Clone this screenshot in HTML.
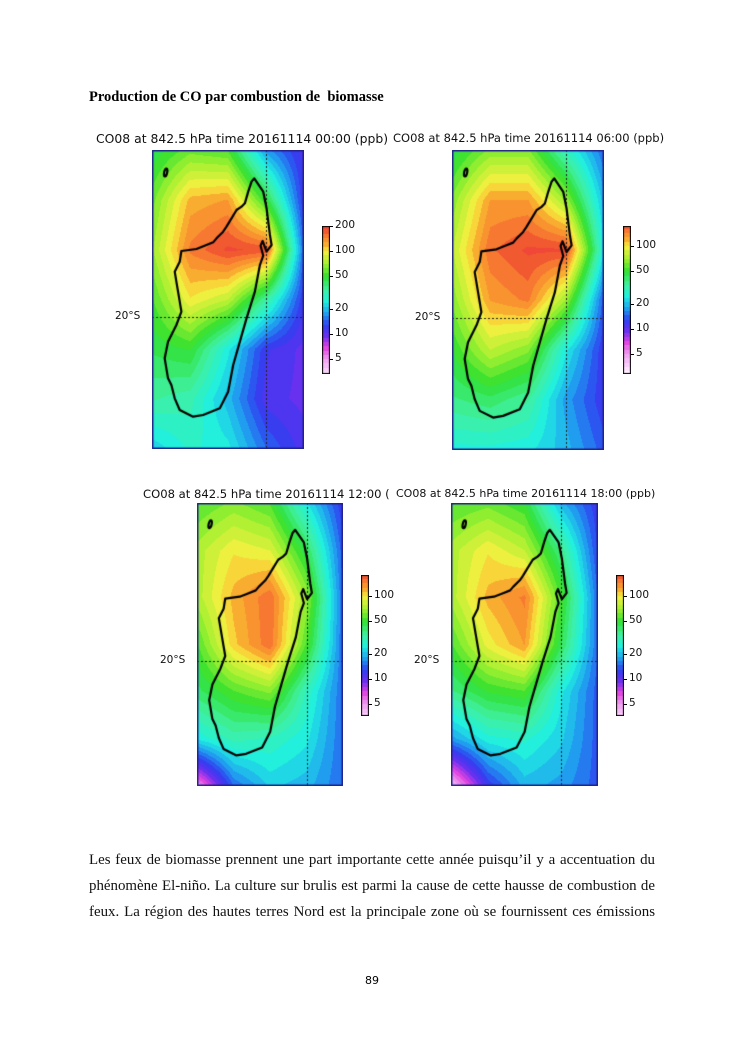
<!DOCTYPE html>
<html><head><meta charset="utf-8">
<style>
body{margin:0;background:#fff;}
#page{position:relative;width:744px;height:1053px;overflow:hidden;background:#fff;}
.abs{position:absolute;}
.ttl{font-family:"DejaVu Sans","Liberation Sans",sans-serif;font-size:12.4px;color:#111;white-space:nowrap;}
.line{position:absolute;left:89px;width:566px;font-family:"Liberation Serif",serif;font-size:14.9px;text-align:justify;text-align-last:justify;white-space:nowrap;color:#111;}
.lbl{font-family:"DejaVu Sans","Liberation Sans",sans-serif;font-size:10.5px;color:#111;position:absolute;white-space:nowrap;}
canvas{position:absolute;}
</style></head>
<body><div id="page">
<div class="abs" style="left:89px;top:89px;font-family:'Liberation Serif',serif;font-weight:bold;font-size:14.5px;">Production de CO par combustion de&nbsp; biomasse</div>

<div class="abs ttl" style="left:96px;top:131px;">CO08 at 842.5 hPa time 20161114 00:00 (ppb)</div>
<div class="abs ttl" style="left:393px;top:131px;font-size:11.5px;">CO08 at 842.5 hPa time 20161114 06:00 (ppb)</div>
<div class="abs ttl" style="left:143px;top:487px;width:247px;overflow:hidden;font-size:11.6px;">CO08 at 842.5 hPa time 20161114 12:00 (ppb)</div>
<div class="abs ttl" style="left:396px;top:487px;font-size:11px;">CO08 at 842.5 hPa time 20161114 18:00 (ppb)</div>

<div class="line" style="top:852px;">Les feux de biomasse prennent une part importante cette année puisqu’il y a accentuation du</div>
<div class="line" style="top:878px;">phénomène El-niño. La culture sur brulis est parmi la cause de cette hausse de combustion de</div>
<div class="line" style="top:904px;">feux. La région des hautes terres Nord est la principale zone où se fournissent ces émissions</div>
<div class="abs" style="left:365px;top:974px;font-family:'DejaVu Sans',sans-serif;font-size:11px;">89</div>
</div>
<script>
// Field grids (ppb), 7 rows (north->south) x 5 cols (west->east)
const grid0000=[[45,60,55,18,11],[60,120,130,50,12],[70,150,190,180,15],[55,100,80,35,12],[45,50,25,12,10],[35,32,20,11,10],[22,28,25,15,11]];
const grid0600=[[45,65,65,30,15],[65,130,130,70,20],[80,160,190,190,25],[65,130,150,70,14],[50,80,65,25,12],[38,42,35,18,12],[26,26,25,20,14]];
const grid1200=[[55,65,55,25,12],[75,100,90,45,14],[75,120,160,70,15],[55,110,160,55,15],[42,55,65,30,15],[25,32,30,25,15],[5,15,22,20,15]];
const grid1800=[[55,60,50,20,12],[75,100,80,38,13],[75,120,150,55,15],[55,95,130,45,15],[38,50,55,25,14],[18,26,28,22,14],[4,12,20,18,14]];
const cbTicksA=[200,100,50,20,10,5];
const cbTicksB=[100,50,20,10,5];

const cmapV=[3,5,7,10,13,18,25,35,50,70,100,120,150,180,210];
const cmapC=['#fff0ff','#f0a0f0','#e040e0','#6030f0','#3040f0','#20a0f0','#20f0e0','#40f0a0','#30e030','#a0f030','#f8f040','#f8b030','#f88030','#f05030','#f04040'];
function hex(h){return [parseInt(h.substr(1,2),16),parseInt(h.substr(3,2),16),parseInt(h.substr(5,2),16)];}
function color(v){
  let lv=Math.log(Math.max(v,2.5));
  lv=Math.round(lv/0.12)*0.12; v=Math.exp(lv);
  if(v<=cmapV[0])return hex(cmapC[0]);
  for(let i=1;i<cmapV.length;i++){if(v<=cmapV[i]){const t=(Math.log(v)-Math.log(cmapV[i-1]))/(Math.log(cmapV[i])-Math.log(cmapV[i-1]));const a=hex(cmapC[i-1]),b=hex(cmapC[i]);return a.map((x,k)=>Math.round(x+(b[k]-x)*t));}}
  return hex(cmapC[cmapC.length-1]);
}
function field(g,x,y){
  const gx=x*4,gy=y*6;const i=Math.min(3,Math.floor(gx)),j=Math.min(5,Math.floor(gy));const tx=gx-i,ty=gy-j;
  const L=(a)=>Math.log(a);
  const v=L(g[j][i])*(1-tx)*(1-ty)+L(g[j][i+1])*tx*(1-ty)+L(g[j+1][i])*(1-tx)*ty+L(g[j+1][i+1])*tx*ty;
  return Math.exp(v);
}
const coast=[[493,160],[520,200],[530,250],[540,330],[545,360],[530,380],[518,348],[512,362],[520,392],[510,420],[495,500],[470,580],[450,650],[430,720],[415,800],[390,850],[340,870],[310,875],[270,855],[255,820],[245,780],[235,760],[225,700],[235,650],[260,600],[275,560],[265,500],[255,440],[270,410],[275,378],[320,372],[350,360],[370,352],[380,340],[400,320],[410,305],[425,280],[440,255],[455,245],[465,235],[475,200],[485,170]].map(p=>[(p[0]-187)/455,(p[1]-75)/897]);
const page=document.getElementById('page');
function panel(name,g,x,y,w,h,cbx,cby,cbh,ticks,tickTop){
  const c=document.createElement('canvas');c.width=w;c.height=h;c.style.left=x+'px';c.style.top=y+'px';
  
  
  page.appendChild(c);
  const ctx=c.getContext('2d');const img=ctx.createImageData(w,h);
  for(let py=0;py<h;py++)for(let px=0;px<w;px++){const col=color(field(g,px/(w-1),py/(h-1)));const k=(py*w+px)*4;img.data[k]=col[0];img.data[k+1]=col[1];img.data[k+2]=col[2];img.data[k+3]=255;}
  ctx.putImageData(img,0,0);
  ctx.setLineDash([2,2]);ctx.strokeStyle='#222';ctx.lineWidth=1;
  ctx.beginPath();ctx.moveTo(Math.round(w*0.75)+0.5,0);ctx.lineTo(Math.round(w*0.75)+0.5,h);ctx.moveTo(0,Math.round(h*0.56)+0.5);ctx.lineTo(w,Math.round(h*0.56)+0.5);ctx.stroke();
  ctx.setLineDash([]);ctx.lineWidth=2.2;ctx.strokeStyle='#000';ctx.lineJoin='round';
  ctx.beginPath();coast.forEach((p,i)=>{const X=p[0]*w,Y=p[1]*h;i?ctx.lineTo(X,Y):ctx.moveTo(X,Y);});ctx.closePath();ctx.stroke();
  ctx.beginPath();ctx.ellipse(0.09*w,0.075*h,1.5,4,0.2,0,7);ctx.stroke();
  ctx.lineWidth=1.5;ctx.strokeStyle='#20208a';ctx.strokeRect(0.75,0.75,w-1.5,h-1.5);
  const d=document.createElement('div');d.className='lbl';d.style.left=(x-37)+'px';d.style.top=(y+h*0.56-7)+'px';d.textContent='20°S';
  
  
  page.appendChild(d);
  const cb=document.createElement('canvas');cb.width=8;cb.height=cbh;cb.style.left=cbx+'px';cb.style.top=cby+'px';
  
  
  page.appendChild(cb);
  const cc=cb.getContext('2d');const lt=Math.log(tickTop),lb=Math.log(tickTop)-(cbh/25)*Math.LN2;
  for(let py=0;py<cbh;py++){const v=Math.exp(lt-(lt-lb)*py/cbh);const col=color(v);cc.fillStyle='rgb('+col.join(',')+')';cc.fillRect(0,py,8,1);}
  cc.strokeStyle='#000';cc.lineWidth=1;cc.strokeRect(0.5,0.5,7,cbh-1);
  ticks.forEach(t=>{const ty=cby+(lt-Math.log(t))/(lt-lb)*cbh;
    const tk=document.createElement('div');tk.className='abs';tk.style.cssText='left:'+(cbx+8)+'px;top:'+Math.round(ty)+'px;width:3px;height:1px;background:#000;';
    
    
    page.appendChild(tk);
    const l=document.createElement('div');l.className='lbl';l.style.left=(cbx+13)+'px';l.style.top=(ty-7)+'px';l.textContent=t;
    
    
    page.appendChild(l);});
}
panel('panel-0000',grid0000,152,150,152,299,322,226,148,cbTicksA,200);
panel('panel-0600',grid0600,452,150,152,300,623,226,148,cbTicksB,174);
panel('panel-1200',grid1200,197,503,146,283,361,575,141,cbTicksB,180);
panel('panel-1800',grid1800,451,503,147,283,616,575,141,cbTicksB,180);
</script>
</body></html>
